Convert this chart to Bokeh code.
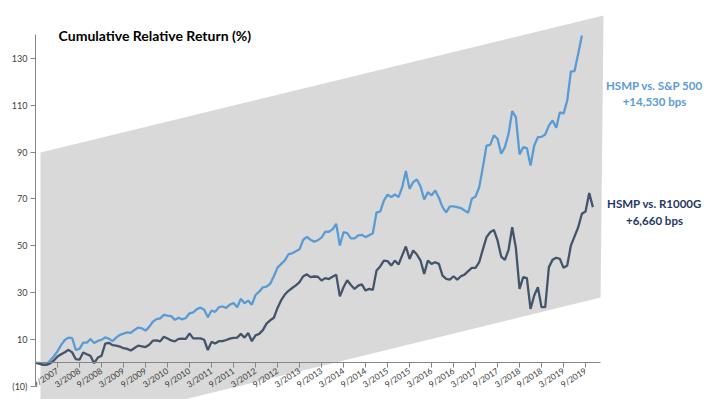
import math
from bokeh.plotting import figure
from bokeh.models import Range1d, FixedTicker, Label
from bokeh.embed import file_html
from bokeh.resources import INLINE

# ---------------- data ----------------
tick_labels = ["3/2007", "9/2007", "3/2008", "9/2008", "3/2009", "9/2009",
               "3/2010", "9/2010", "3/2011", "9/2011", "3/2012", "9/2012",
               "3/2013", "9/2013", "3/2014", "9/2014", "3/2015", "9/2015",
               "3/2016", "9/2016", "3/2017", "9/2017", "3/2018", "9/2018",
               "3/2019", "9/2019"]

# cumulative relative return (%) monthly, HSMP vs. S&P 500
sp500 = [0.0, 0.0, -0.4, -0.5, 1.0, 2.8, 5.0, 7.7, 9.8, 10.8,
         10.6, 5.6, 6.0, 8.7, 8.7, 10.2, 8.5, 9.4, 9.9, 10.9,
         10.4, 9.3, 10.8, 12.0, 12.5, 13.1, 12.8, 14.1, 15.1, 14.8,
         13.8, 15.4, 17.6, 18.7, 19.0, 20.5, 20.2, 20.0, 18.4, 19.3,
         18.6, 19.2, 21.2, 21.6, 23.0, 23.6, 22.7, 19.5, 22.4, 21.8,
         23.8, 24.1, 23.5, 24.9, 25.6, 23.8, 27.4, 25.5, 26.6, 24.9,
         29.0, 30.4, 32.3, 32.6, 33.8, 37.0, 40.7, 42.3, 43.8, 46.4,
         46.8, 47.7, 48.5, 52.5, 53.8, 52.6, 51.7, 52.4, 53.5, 56.0,
         56.0, 57.0, 59.4, 50.1, 55.8, 55.4, 53.2, 53.2, 54.4, 54.7,
         53.7, 54.5, 55.4, 64.3, 64.6, 69.3, 71.8, 70.8, 71.9, 70.8,
         75.0, 81.9, 74.3, 77.2, 78.3, 75.3, 69.8, 72.9, 71.5, 73.6,
         70.5, 66.5, 64.3, 66.8, 66.8, 66.5, 66.1, 65.1, 64.1, 70.1,
         71.0, 75.0, 83.6, 92.8, 93.1, 97.1, 95.7, 89.3, 92.1, 97.8,
         107.5, 104.9, 89.0, 92.1, 91.7, 84.3, 92.8, 96.4, 96.5, 97.5,
         101.3, 103.5, 100.4, 107.0, 106.4, 112.0, 124.4, 124.6, 132.0, 139.8]

# cumulative relative return (%) monthly, HSMP vs. R1000G
r1000g = [0.0, -0.3, -0.8, -0.8, -0.2, 1.0, 2.8, 3.7, 4.6, 5.6,
          4.5, 1.6, 1.4, 4.5, 3.7, 3.0, -0.1, 2.3, 3.0, 8.2,
          8.6, 7.6, 7.4, 7.0, 6.3, 6.0, 5.3, 6.4, 7.4, 7.1,
          6.8, 7.8, 9.5, 9.6, 9.2, 11.2, 10.4, 9.6, 9.2, 10.3,
          10.4, 10.3, 12.6, 10.5, 10.5, 10.5, 9.9, 5.5, 9.0, 8.3,
          9.3, 9.3, 9.8, 10.4, 10.7, 10.8, 12.4, 10.8, 12.8, 9.3,
          11.8, 12.4, 14.0, 16.8, 18.2, 19.3, 23.5, 26.8, 29.2, 30.8,
          32.0, 33.1, 34.5, 37.0, 37.8, 36.6, 36.9, 36.8, 35.2, 36.2,
          35.8, 36.8, 37.7, 28.4, 32.3, 35.3, 33.3, 31.6, 33.0, 33.5,
          30.9, 31.6, 31.2, 39.5, 41.2, 43.7, 43.5, 41.6, 43.7, 42.0,
          45.9, 49.7, 44.4, 48.0, 46.3, 43.7, 38.0, 43.7, 42.3, 43.0,
          42.3, 37.3, 35.9, 35.6, 37.0, 35.6, 37.0, 37.7, 39.2, 40.6,
          40.6, 43.0, 48.5, 53.7, 55.8, 56.8, 52.3, 45.4, 44.0, 48.3,
          57.9, 49.1, 31.6, 36.6, 36.2, 23.1, 28.8, 32.3, 23.8, 23.8,
          40.9, 44.0, 44.9, 44.4, 40.6, 41.6, 50.1, 54.0, 57.9, 63.7,
          64.6, 72.5, 66.5]

y_ticks = [-10, 10, 30, 50, 70, 90, 110, 130]
y_tick_labels = ["(10)", "10", "30", "50", "70", "90", "110", "130"]

# ---------------- figure ----------------
p = figure(width=709, height=399, output_backend="svg", toolbar_location=None,
           x_range=Range1d(0, 183.8), y_range=Range1d(-15.6, 154.7),
           min_border_left=35, min_border_right=0, min_border_top=0,
           min_border_bottom=0)
p.outline_line_color = None
p.grid.visible = False
p.background_fill_color = "white"

# grey backdrop shape
p.patch([1.36, 154.9, 154.1, 1.36], [89.8, 148.3, 27.9, -30.6],
        fill_color="#D9D9D9", line_color=None)

p.line(list(range(len(sp500))), sp500, line_color="#5B9BD5", line_width=2.3)
p.line(list(range(len(r1000g))), r1000g, line_color="#44546A", line_width=2.3)

axis_col = "#868686"
lab_col = "#404040"

xa = p.xaxis[0]
xa.fixed_location = 0
xa.bounds = (0, 154)
x_ticks = [6 * i for i in range(len(tick_labels))]
xa.ticker = FixedTicker(ticks=x_ticks)
xa.major_label_overrides = {t: l for t, l in zip(x_ticks, tick_labels)}
xa.major_label_orientation = math.radians(33)
xa.major_tick_out = 5
xa.major_tick_in = 0
xa.minor_tick_out = 0
xa.minor_tick_in = 0
xa.axis_line_color = axis_col
xa.major_tick_line_color = axis_col
xa.major_label_text_font = "Lato"
xa.major_label_text_font_size = "8.5px"
xa.major_label_text_color = lab_col
xa.major_label_standoff = 2

ya = p.yaxis[0]
ya.bounds = (-10, 140)
ya.ticker = FixedTicker(ticks=y_ticks)
ya.major_label_overrides = {t: l for t, l in zip(y_ticks, y_tick_labels)}
ya.major_tick_out = 5
ya.major_tick_in = 0
ya.minor_tick_out = 0
ya.minor_tick_in = 0
ya.axis_line_color = axis_col
ya.major_tick_line_color = axis_col
ya.major_label_text_font = "Lato"
ya.major_label_text_font_size = "9px"
ya.major_label_text_color = lab_col
ya.major_label_standoff = 3

p.add_layout(Label(x=6.3, y=139.8, text="Cumulative Relative Return (%)",
                   text_font="Lato", text_font_style="bold",
                   text_font_size="14px", text_baseline="middle",
                   text_color="black"))

blue_txt = "#5B9BD5"
dark_txt = "#1F3864"
for txt, yy, col in [("HSMP vs. S&P 500", 118.6, blue_txt),
                     ("+14,530 bps", 111.8, blue_txt),
                     ("HSMP vs. R1000G", 68.0, dark_txt),
                     ("+6,660 bps", 61.0, dark_txt)]:
    p.add_layout(Label(x=168.8, y=yy, text=txt, text_font="Lato",
                       text_font_style="bold", text_font_size="11.5px",
                       text_align="center", text_baseline="middle",
                       text_color=col))

open("out.html", "w").write(file_html(p, INLINE))
